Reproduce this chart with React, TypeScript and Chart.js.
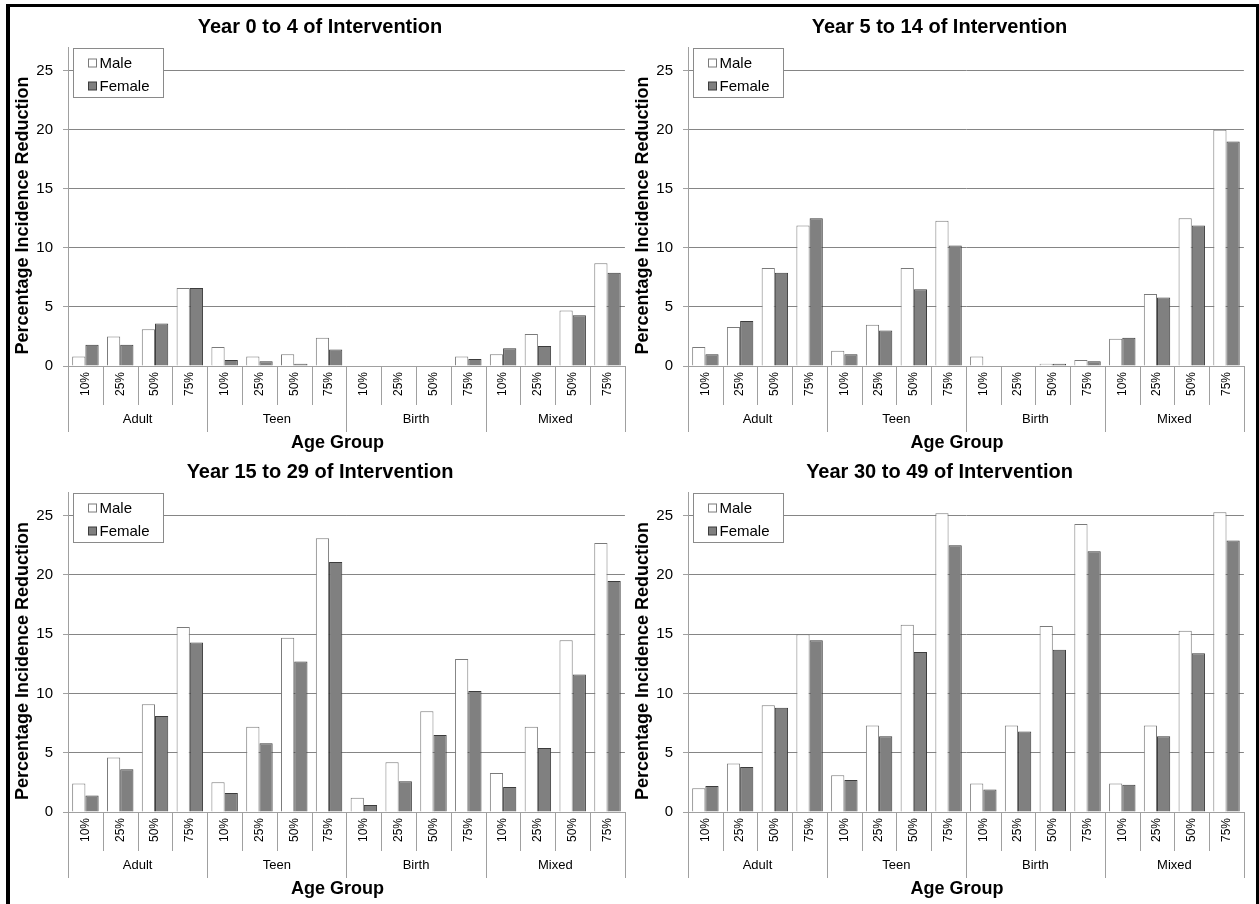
import React, { useEffect, useRef } from 'react';
import { Chart, registerables } from 'chart.js';

Chart.register(...registerables);

const categories = ['10%', '25%', '50%', '75%', '10%', '25%', '50%', '75%', '10%', '25%', '50%', '75%', '10%', '25%', '50%', '75%'];
const groups = ['Adult', 'Teen', 'Birth', 'Mixed'];
const seriesNames = ['Male', 'Female'];
const yTicks = [0, 5, 10, 15, 20, 25];

const male0to4 = [0.8, 2.5, 3.1, 6.6, 1.6, 0.8, 1.0, 2.4, 0, 0, 0, 0.8, 1.0, 2.7, 4.7, 8.7];
const female0to4 = [1.8, 1.8, 3.6, 6.6, 0.5, 0.4, 0.2, 1.4, 0, 0, 0, 0.6, 1.5, 1.7, 4.3, 7.9];
const male5to14 = [1.6, 3.3, 8.3, 11.9, 1.3, 3.5, 8.3, 12.3, 0.8, 0, 0.2, 0.5, 2.3, 6.1, 12.5, 20.0];
const female5to14 = [1.0, 3.8, 7.9, 12.5, 1.0, 3.0, 6.5, 10.2, 0, 0.05, 0.2, 0.4, 2.4, 5.8, 11.9, 19.0];
const male15to29 = [2.4, 4.6, 9.1, 15.6, 2.5, 7.2, 14.7, 23.1, 1.2, 4.2, 8.5, 12.9, 3.3, 7.2, 14.5, 22.7];
const female15to29 = [1.4, 3.6, 8.1, 14.3, 1.6, 5.8, 12.7, 21.1, 0.6, 2.6, 6.5, 10.2, 2.1, 5.4, 11.6, 19.5];
const male30to49 = [2.0, 4.1, 9.0, 15.0, 3.1, 7.3, 15.8, 25.2, 2.4, 7.3, 15.7, 24.3, 2.4, 7.3, 15.3, 25.3];
const female30to49 = [2.2, 3.8, 8.8, 14.5, 2.7, 6.4, 13.5, 22.5, 1.9, 6.8, 13.7, 22.0, 2.3, 6.4, 13.4, 22.9];

const panelTitles = [
  'Year 0 to 4 of Intervention',
  'Year 5 to 14 of Intervention',
  'Year 15 to 29 of Intervention',
  'Year 30 to 49 of Intervention',
];
const xTitle = 'Age Group';
const yTitle = 'Percentage Incidence Reduction';

const FONT = '"Liberation Sans", Arial, sans-serif';
const MALE_FILL = '#ffffff';
const MALE_BORDER = '#7a7a7a';
const FEMALE_FILL = '#808080';
const FEMALE_BORDER = '#3c3c3c';
const GRID = '#858585';
const AXIS = '#a0a0a0';

const decorPlugin = {
  id: 'decor',
  afterDraw(chart: any, _args: any, opts: any) {
    const { ctx, chartArea: a, scales } = chart;
    const n = scales.x.ticks.length;
    const band = (a.right - a.left) / n;
    ctx.save();
    // category and group dividers
    ctx.strokeStyle = AXIS;
    ctx.lineWidth = 1;
    for (let i = 0; i <= n; i++) {
      const px = Math.round(a.left + i * band) + 0.5;
      const len = i % 4 === 0 ? 66 : 39;
      ctx.beginPath();
      ctx.moveTo(px, a.bottom);
      ctx.lineTo(px, a.bottom + len);
      ctx.stroke();
    }
    // group labels
    ctx.fillStyle = '#000';
    ctx.font = '13px ' + FONT;
    ctx.textAlign = 'center';
    ctx.textBaseline = 'middle';
    groups.forEach((g, gi) => {
      ctx.fillText(g, a.left + (gi * 4 + 2) * band, a.bottom + 53);
    });
    // x title
    ctx.font = 'bold 18px ' + FONT;
    ctx.textBaseline = 'alphabetic';
    ctx.fillText(xTitle, (a.left + a.right) / 2 - 9, a.bottom + 82);
    // y title
    ctx.save();
    ctx.translate(a.left - 45, (a.top + a.bottom) / 2 + 9);
    ctx.rotate(-Math.PI / 2);
    ctx.textBaseline = 'middle';
    ctx.fillText(yTitle, 0, 0);
    ctx.restore();
    // panel title
    ctx.font = 'bold 20px ' + FONT;
    ctx.textBaseline = 'alphabetic';
    ctx.fillText(opts.title, chart.width / 2 + 1, a.top - 14);
    // legend box
    const lx = Math.round(a.left) + 5 + 0.5;
    const ly = Math.round(a.top) + 1 + 0.5;
    ctx.fillStyle = '#fff';
    ctx.fillRect(lx, ly, 90, 49);
    ctx.strokeStyle = '#8a8a8a';
    ctx.strokeRect(lx, ly, 90, 49);
    const items = [
      { label: seriesNames[0], fill: MALE_FILL, border: MALE_BORDER, dy: 14 },
      { label: seriesNames[1], fill: FEMALE_FILL, border: FEMALE_BORDER, dy: 37 },
    ];
    ctx.font = '15px ' + FONT;
    ctx.textAlign = 'left';
    ctx.textBaseline = 'middle';
    items.forEach((it) => {
      const cy = ly + it.dy;
      ctx.fillStyle = it.fill;
      ctx.fillRect(lx + 15, Math.round(cy - 4), 8, 8);
      ctx.strokeStyle = it.border;
      ctx.strokeRect(lx + 15, Math.round(cy - 4), 8, 8);
      ctx.fillStyle = '#000';
      ctx.fillText(it.label, lx + 26, cy + 1);
    });
    ctx.restore();
  },
};

type PanelProps = {
  title: string;
  male: number[];
  female: number[];
  left: number;
  top: number;
  width: number;
  height: number;
  padTop: number;
  padBottom: number;
};

function Panel(p: PanelProps) {
  const ref = useRef<HTMLCanvasElement | null>(null);
  useEffect(() => {
    if (!ref.current) return;
    const chart = new Chart(ref.current, {
      type: 'bar',
      data: {
        labels: categories,
        datasets: [
          {
            label: seriesNames[0],
            data: p.male,
            backgroundColor: MALE_FILL,
            borderColor: MALE_BORDER,
            borderWidth: 1,
            categoryPercentage: 0.76,
            barPercentage: 1.0,
          },
          {
            label: seriesNames[1],
            data: p.female,
            backgroundColor: FEMALE_FILL,
            borderColor: FEMALE_BORDER,
            borderWidth: 1,
            categoryPercentage: 0.76,
            barPercentage: 1.0,
          },
        ],
      },
      options: {
        responsive: false,
        animation: false,
        devicePixelRatio: 1,
        layout: { padding: { left: 0, right: 3, top: p.padTop, bottom: p.padBottom } },
        plugins: {
          legend: { display: false },
          title: { display: false },
          tooltip: { enabled: false },
          decor: { title: p.title },
        } as any,
        scales: {
          x: {
            offset: true,
            grid: { display: false, drawTicks: false },
            border: { display: true, color: AXIS, width: 1 },
            ticks: {
              color: '#000',
              font: { family: FONT, size: 12 },
              minRotation: 90,
              maxRotation: 90,
              padding: 6,
              autoSkip: false,
            },
            afterFit: (s: any) => {
              s.height = 40;
            },
          },
          y: {
            min: 0,
            max: 27,
            grid: { color: GRID, tickColor: AXIS, tickLength: 5, drawTicks: true },
            border: { display: true, color: AXIS, width: 1 },
            ticks: {
              stepSize: 5,
              color: '#000',
              font: { family: FONT, size: 15 },
              padding: 10,
            },
            afterBuildTicks: (s: any) => {
              s.ticks = s.ticks.filter((t: any) => yTicks.includes(t.value));
            },
            afterFit: (s: any) => {
              s.width = 58;
            },
          },
        },
      },
      plugins: [decorPlugin as any],
    });
    return () => chart.destroy();
  }, []);
  return (
    <canvas
      ref={ref}
      width={p.width}
      height={p.height}
      style={{ position: 'absolute', left: p.left, top: p.top, width: p.width, height: p.height }}
    />
  );
}

export default function App() {
  return (
    <div style={{ position: 'fixed', left: 0, top: 0, width: 1259, height: 904, background: '#fff', overflow: 'hidden' }}>
      <div
        style={{
          position: 'absolute',
          left: 6,
          top: 4,
          width: 1253,
          height: 920,
          boxSizing: 'border-box',
          borderTop: '3px solid #000',
          borderLeft: '4px solid #000',
          borderRight: '3px solid #000',
        }}
      />
      <Panel title={panelTitles[0]} male={male0to4} female={female0to4} left={10} top={8} width={618} height={452} padTop={39} padBottom={54} />
      <Panel title={panelTitles[1]} male={male5to14} female={female5to14} left={630} top={8} width={617} height={452} padTop={39} padBottom={54} />
      <Panel title={panelTitles[2]} male={male15to29} female={female15to29} left={10} top={452} width={618} height={452} padTop={40} padBottom={52} />
      <Panel title={panelTitles[3]} male={male30to49} female={female30to49} left={630} top={452} width={617} height={452} padTop={40} padBottom={52} />
    </div>
  );
}
